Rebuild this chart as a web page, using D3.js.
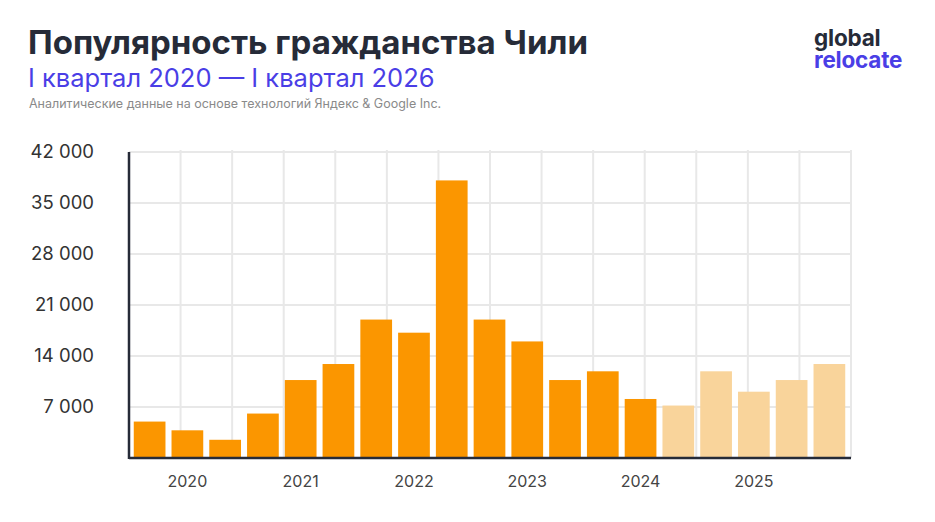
<!DOCTYPE html>
<html><head><meta charset="utf-8">
<script src="https://cdn.jsdelivr.net/npm/d3@7"></script>
<style>body{margin:0;background:#fff;font-family:Inter,"Noto Sans",sans-serif}</style>
</head><body><div id="chart"></div>
<script>
// Data
const quarters = ['2020Q1','2020Q2','2020Q3','2020Q4','2021Q1','2021Q2','2021Q3','2021Q4','2022Q1','2022Q2','2022Q3','2022Q4','2023Q1','2023Q2','2023Q3','2023Q4','2024Q1','2024Q2','2024Q3']
const values = [5000,3800,2500,6100,10700,12900,19000,17200,38100,19000,16000,10700,11900,8100,7200,11900,9100,10700,12900]
const forecast = [false,false,false,false,false,false,false,false,false,false,false,false,false,false,true,true,true,true,true]
const yTicks = [7000,14000,21000,28000,35000,42000]
const yearLabels = ['2020','2021','2022','2023','2024','2025']
const yearLabelAt = [1,4,7,10,13,16]

const width = 935, height = 522
const plotL = 129, plotR = 851, plotT = 152, plotB = 458

const svg = d3.select('#chart').append('svg')
  .attr('width', width).attr('height', height)

svg.append('text').attr('x',28).attr('y',54)
  .attr('font-size',33).attr('font-weight',700).attr('fill','#262b38')
  .text('Популярность гражданства Чили')
svg.append('text').attr('x',28).attr('y',87)
  .attr('font-size',25.5).attr('fill','#4a3ee6')
  .text('I квартал 2020 — I квартал 2026')
svg.append('text').attr('x',29).attr('y',108)
  .attr('font-size',12.5).attr('fill','#8a8a8a')
  .text('Аналитические данные на основе технологий Яндекс & Google Inc.')
svg.append('text').attr('x',814).attr('y',46)
  .attr('font-size',22.5).attr('font-weight',700).attr('fill','#262b38').attr('letter-spacing',-0.2)
  .text('global')
svg.append('text').attr('x',814).attr('y',68)
  .attr('font-size',22.5).attr('font-weight',700).attr('fill','#4a3ee6').attr('letter-spacing',-0.2)
  .text('relocate')

const y = d3.scaleLinear().domain([0,42000]).range([plotB,plotT])
const x = d3.scaleBand().domain(quarters).range([plotL+4,plotR-5]).paddingInner(0.16).paddingOuter(0.02)

// grid
const gx = d3.range(15).map(i => plotL + i*(plotR-plotL)/14)
svg.append('g').selectAll('line').data(gx.slice(1)).enter().append('line')
  .attr('x1',d=>d).attr('x2',d=>d).attr('y1',plotT-2).attr('y2',plotB)
  .attr('stroke','#e8e8e8').attr('stroke-width',2)
svg.append('g').selectAll('line').data(yTicks).enter().append('line')
  .attr('x1',plotL).attr('x2',plotR).attr('y1',d=>y(d)).attr('y2',d=>y(d))
  .attr('stroke','#e8e8e8').attr('stroke-width',2)

svg.selectAll('rect.bar').data(values).enter().append('rect')
  .attr('class','bar')
  .attr('x',(d,i)=>x(quarters[i]))
  .attr('y',d=>y(d))
  .attr('width',x.bandwidth())
  .attr('height',d=>plotB-y(d))
  .attr('fill',(d,i)=>forecast[i]?'#f9d49b':'#fb9600')

// y labels
svg.append('g').selectAll('text').data(yTicks).enter().append('text')
  .attr('x',94).attr('y',d=>y(d)+6).attr('text-anchor','end')
  .attr('font-size',18.5).attr('fill','#333')
  .text(d=>d3.format(',')(d).replace(',',' '))

// x labels
svg.append('g').selectAll('text').data(yearLabels).enter().append('text')
  .attr('x',(d,i)=>x(quarters[yearLabelAt[i]])+x.bandwidth()/2)
  .attr('y',487).attr('text-anchor','middle')
  .attr('font-size',16).attr('fill','#444')
  .text(d=>d)

// axes
svg.append('line').attr('x1',plotL).attr('x2',plotL).attr('y1',plotT).attr('y2',plotB+1)
  .attr('stroke','#262b38').attr('stroke-width',2.5)
svg.append('line').attr('x1',plotL).attr('x2',plotR).attr('y1',plotB).attr('y2',plotB)
  .attr('stroke','#262b38').attr('stroke-width',2.5)
</script></body></html>
